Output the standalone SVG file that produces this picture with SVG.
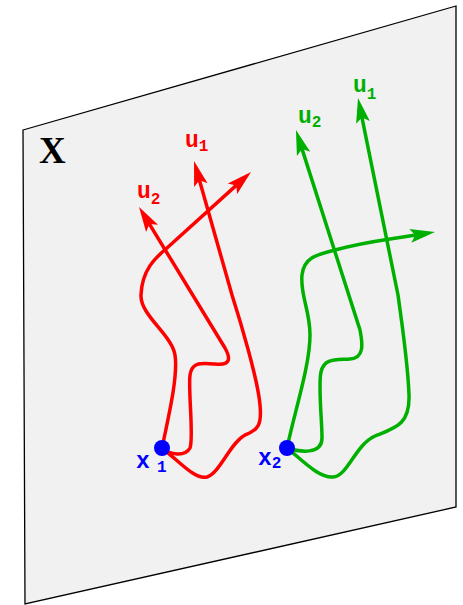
<svg xmlns="http://www.w3.org/2000/svg" width="463" height="605" viewBox="0 0 463 605">
<style>
.red{fill:none;stroke:#ff0000;stroke-width:3.5}
.grn{fill:none;stroke:#00b000;stroke-width:3.5}
.lbl{font-family:"Liberation Mono","DejaVu Sans Mono",monospace;font-weight:bold;font-size:23px}
.sub{font-size:16px}
</style>
<defs>
<marker id="ar" markerUnits="userSpaceOnUse" orient="auto" refX="0" refY="0" markerWidth="30" markerHeight="20" overflow="visible">
<path d="M8,0 L-17,-7 L-12,0 L-17,7 Z" fill="#ff0000"/>
</marker>
<marker id="ag" markerUnits="userSpaceOnUse" orient="auto" refX="0" refY="0" markerWidth="30" markerHeight="20" overflow="visible">
<path d="M8,0 L-17,-7 L-12,0 L-17,7 Z" fill="#00b000"/>
</marker>
</defs>
<g id="plane">
<polygon points="23,130 456,6 456,507 25,604" fill="#f1f1f1" stroke="#000" stroke-width="1.3"/>
<text x="39" y="163" font-family="Liberation Serif, serif" font-weight="bold" font-size="37">X</text>
</g>
<g id="connectors">
<path class="red" marker-end="url(#ar)" d="M162,448 C170,410 178,375 175,355 C172,335 140,315 141,295 C142,270 155,258 167,248 L245.1,177.4"/>
<path class="red" marker-end="url(#ar)" d="M162,448 C170,455 185,457 190,448 C194,438 188,390 190,375 C192,362 200,363 215,364 C232,366 230,357 225,348 L143.2,213.8"/>
<path class="red" marker-end="url(#ar)" d="M162,448 C180,462 195,480 207,477 C220,473 230,443 245,435 C258,430 262,425 260,405 C258,380 240,320 232,295 L196.2,168.7"/>
<path class="grn" marker-end="url(#ag)" d="M287,448 C295,410 310,365 310,335 C310,310 300,295 302,275 C304,258 315,255 335,250 C350,246 370,242 390,239 L427.1,233.2"/>
<path class="grn" marker-end="url(#ag)" d="M287,448 C300,452 322,455 322,438 C322,420 318,385 321,372 C324,358 335,360 350,359 C364,358 363,345 360,330 L298.4,137.6"/>
<path class="grn" marker-end="url(#ag)" d="M287,448 C300,458 318,478 333,477 C348,476 355,445 375,436 C395,428 410,425 409,395 C408,365 403,330 398,295 L359.6,105.8"/>
</g>
<g id="labels-red" fill="#ff0000" class="lbl">
<text x="185" y="147">u<tspan class="sub" dy="4">1</tspan></text>
<text x="137" y="198">u<tspan class="sub" dy="6">2</tspan></text>
</g>
<g id="labels-green" fill="#00b000" class="lbl">
<text x="298" y="123">u<tspan class="sub" dy="4">2</tspan></text>
<text x="353" y="92">u<tspan class="sub" dy="7">1</tspan></text>
</g>
<g id="x1">
<circle cx="162" cy="448" r="8" fill="#0000ff"/>
<text class="lbl" fill="#0000ff" x="136" y="468">x<tspan class="sub" x="157" dy="4">1</tspan></text>
</g>
<g id="x2">
<circle cx="287" cy="448" r="8" fill="#0000ff"/>
<text class="lbl" fill="#0000ff" x="258" y="465">x<tspan class="sub" dy="3">2</tspan></text>
</g>
</svg>
